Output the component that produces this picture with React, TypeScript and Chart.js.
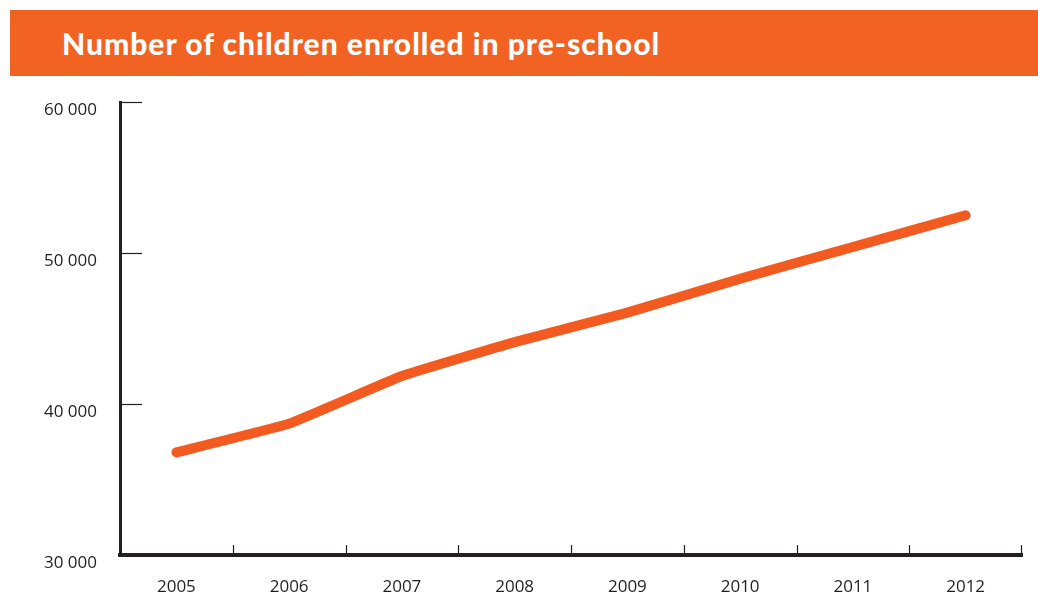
import React, { useEffect, useRef } from "react";
import { Chart, registerables } from "chart.js";

Chart.register(...registerables);

const TITLE = "Number of children enrolled in pre-school";
const YEARS = ["2005", "2006", "2007", "2008", "2009", "2010", "2011", "2012"];
const ENROLLED = [36800, 38700, 41850, 44100, 46050, 48300, 50400, 52500];
const Y_TICKS = [30000, 40000, 50000, 60000];

const ORANGE = "#F26223";
const LINE_ORANGE = "#F25A1F";
const INK = "#231F20";

const fmt = (v: number) => {
  const s = String(Math.round(v));
  return s.replace(/\B(?=(\d{3})+(?!\d))/g, " ");
};

const innerTicks = {
  id: "innerTicks",
  afterDraw(chart: any) {
    const { ctx, chartArea, scales } = chart;
    const x = scales.x;
    const y = scales.y;
    ctx.save();
    ctx.strokeStyle = INK;
    ctx.lineWidth = 1.2;
    for (const v of Y_TICKS) {
      if (v === Y_TICKS[0]) continue;
      const py = Math.round(y.getPixelForValue(v)) + 0.5;
      ctx.beginPath();
      ctx.moveTo(chartArea.left, py);
      ctx.lineTo(chartArea.left + 22, py);
      ctx.stroke();
    }
    for (let i = 0; i < YEARS.length; i++) {
      let px: number;
      if (i < YEARS.length - 1) {
        px = (x.getPixelForValue(i) + x.getPixelForValue(i + 1)) / 2;
      } else {
        px = chartArea.right - 1;
      }
      px = Math.round(px) + 0.5;
      ctx.beginPath();
      ctx.moveTo(px, chartArea.bottom);
      ctx.lineTo(px, chartArea.bottom - 10);
      ctx.stroke();
    }
    ctx.restore();
  },
};

export default function App() {
  const ref = useRef<HTMLCanvasElement>(null);

  useEffect(() => {
    if (!ref.current) return;
    const chart = new Chart(ref.current, {
      type: "line",
      data: {
        labels: YEARS,
        datasets: [
          {
            data: ENROLLED,
            borderColor: LINE_ORANGE,
            borderWidth: 10,
            borderCapStyle: "round",
            borderJoinStyle: "round",
            pointRadius: 0,
            tension: 0.1,
            fill: false,
          },
        ],
      },
      options: {
        animation: false,
        responsive: false,
        maintainAspectRatio: false,
        layout: { padding: { top: 22, right: 16, left: 0, bottom: 0 } },
        plugins: {
          legend: { display: false },
          tooltip: { enabled: false },
          title: { display: false },
        },
        scales: {
          x: {
            type: "category",
            offset: true,
            grid: { display: false, drawTicks: false },
            border: { display: true, color: INK, width: 4 },
            ticks: {
              color: INK,
              font: { family: "'Open Sans', sans-serif", size: 17 },
              padding: 22,
              maxRotation: 0,
            },
            afterFit(scale: any) {
              scale.height = 41;
            },
          },
          y: {
            min: 30000,
            max: 60000,
            afterBuildTicks(scale: any) {
              scale.ticks = Y_TICKS.map((v) => ({ value: v }));
            },
            grid: { display: false, drawTicks: false },
            border: { display: true, color: INK, width: 3 },
            ticks: {
              color: INK,
              font: { family: "'Open Sans', sans-serif", size: 17 },
              padding: 23,
              labelOffset: 8,
              callback: (v: any) => fmt(Number(v)),
            },
            afterFit(scale: any) {
              scale.width = 120;
              scale.paddingTop = 0;
              scale.paddingBottom = 0;
            },
          },
        },
      },
      plugins: [innerTicks],
    });
    return () => chart.destroy();
  }, []);

  return (
    <div
      style={{
        position: "fixed",
        left: 0,
        top: 0,
        width: 1038,
        height: 596,
        background: "#ffffff",
        overflow: "hidden",
      }}
    >
      <div
        style={{
          position: "absolute",
          left: 10,
          top: 10,
          width: 1028,
          height: 66,
          background: ORANGE,
          color: "#ffffff",
          fontFamily: "Lato, 'Open Sans', sans-serif",
          fontWeight: 900,
          fontSize: 30,
          letterSpacing: "1px",
          lineHeight: "66px",
          paddingLeft: 52,
          boxSizing: "border-box",
          whiteSpace: "nowrap",
        }}
      >
        {TITLE}
      </div>
      <canvas
        ref={ref}
        width={1038}
        height={516}
        style={{ position: "absolute", left: 0, top: 80, width: 1038, height: 516 }}
      />
    </div>
  );
}
